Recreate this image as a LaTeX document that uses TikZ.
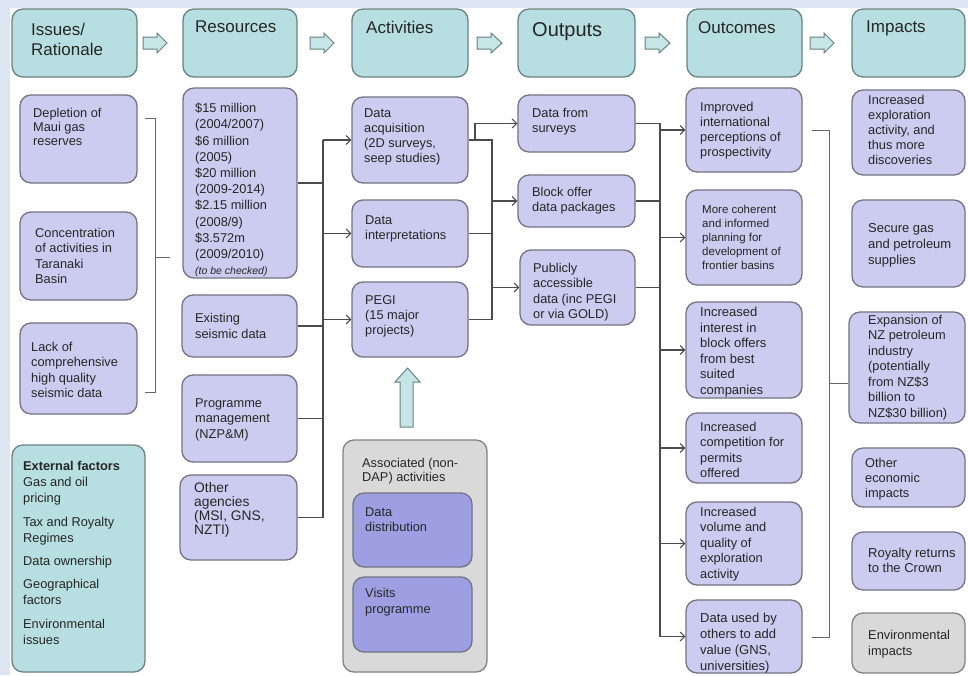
\documentclass[tikz,border=0pt]{standalone}
\usepackage{fontspec}
\setmainfont{Liberation Sans}
\usetikzlibrary{arrows.meta}
\definecolor{bgblue}{RGB}{220,230,242}
\definecolor{lav}{RGB}{204,204,240}
\definecolor{lavdark}{RGB}{158,158,226}
\definecolor{tealfill}{RGB}{183,222,224}
\definecolor{bord}{RGB}{115,115,130}
\definecolor{tealbord}{RGB}{105,130,132}
\definecolor{grayfill}{RGB}{217,217,217}
\definecolor{grybord}{RGB}{130,130,130}
\definecolor{linec}{RGB}{75,75,75}
\newcommand\bx[6]{\node[#6, minimum width={(#4-#2)*1pt}, minimum height={(#5-#3)*1pt}] (#1) at ({(#2+#4)/2},{(#3+#5)/2}) {};}
\newcommand\harrow[4]{\draw[harr] (#2,#4-6) -- (#2+14,#4-6) -- (#2+14,#4-10) -- (#3,#4) -- (#2+14,#4+10) -- (#2+14,#4+6) -- (#2,#4+6) -- cycle;}
\tikzset{
  box/.style={draw=bord, line width=1.3pt, rounded corners=11pt, inner sep=0pt},
  purp/.style={box, fill=lav},
  hdr/.style={box, fill=tealfill, draw=tealbord},
  gry/.style={box, fill=grayfill, draw=grybord},
  dpurp/.style={box, fill=lavdark},
  txt/.style={inner sep=0pt, align=left, anchor=north west, text=black!85, font=\fontsize{12.8}{15.5}\selectfont},
  htxt/.style={txt, font=\fontsize{17}{20}\selectfont},
  conn/.style={draw=linec, line width=1.1pt},
  arr/.style={conn, -{Straight Barb[length=4.5pt, width=9pt]}},
  brk/.style={draw=black!60, line width=1pt},
  harr/.style={draw=tealbord, fill=tealfill!80!white, line width=1pt, line join=miter},
}
\begin{document}
\begin{tikzpicture}[x=1pt, y=-1pt]
\useasboundingbox (0,0) rectangle (968,675);
\fill[white] (0,0) rectangle (968,675);
\fill[bgblue] (0,0) rectangle (968,8);
\fill[bgblue] (0,0) rectangle (10,675);

% headers
\bx{h1}{12}{9}{137}{77}{hdr}
\node[htxt] (h1t) at (31,23) {Issues/\\Rationale};
\bx{h2}{183}{9}{297}{77}{hdr}
\node[htxt] (h2t) at (195,21) {Resources};
\bx{h3}{352}{9}{468}{77}{hdr}
\node[htxt] (h3t) at (366,21) {Activities};
\bx{h4}{518}{9}{635}{77}{hdr}
\node[htxt, font=\fontsize{20}{22}\selectfont] (h4t) at (532,22) {Outputs};
\bx{h5}{687}{9}{802}{77}{hdr}
\node[htxt] (h5t) at (698,21) {Outcomes};
\bx{h6}{852}{9}{965}{77}{hdr}
\node[htxt] (h6t) at (866,21) {Impacts};

\harrow{ha1}{143}{167}{43}
\harrow{ha2}{310}{334}{43}
\harrow{ha3}{477}{502}{43}
\harrow{ha4}{645}{670}{43}
\harrow{ha5}{810}{834}{43}

% issues
\bx{i1}{20}{95}{137}{183}{purp}
\node[txt, font=\fontsize{12.8}{14}\selectfont] (i1t) at (33,108) {Depletion of\\Maui gas\\reserves};
\bx{i2}{20}{212}{137}{300}{purp}
\node[txt] (i2t) at (35,228) {Concentration\\of activities in\\Taranaki\\Basin};
\bx{i3}{20}{323}{137}{414}{purp}
\node[txt] (i3t) at (31,342) {Lack of\\comprehensive\\high quality\\seismic data};
\bx{ext}{12}{445}{145}{672}{hdr}
\node[txt, font=\fontsize{12.8}{16.2}\selectfont] (extt) at (23,461) {{\bfseries External factors}\\Gas and oil\\pricing\\[7pt]Tax and Royalty\\Regimes\\[7pt]Data ownership\\[7pt]Geographical\\factors\\[7pt]Environmental\\issues};

% resources
\bx{r1}{183}{88}{297}{278}{purp}
\node[txt, font=\fontsize{12.8}{16.2}\selectfont] (r1t) at (195,103) {\$15 million\\(2004/2007)\\\$6 million\\(2005)\\\$20 million\\(2009-2014)\\\$2.15 million\\(2008/9)\\\$3.572m\\(2009/2010)\\{\itshape\fontsize{10.5}{12}\selectfont (to be checked)}};
\bx{r2}{182}{295}{297}{357}{purp}
\node[txt, font=\fontsize{12.8}{16.5}\selectfont] (r2t) at (195,313) {Existing\\seismic data};
\bx{r3}{182}{375}{297}{462}{purp}
\node[txt] (r3t) at (195,398) {Programme\\management\\(NZP\&M)};
\bx{r4}{180}{475}{297}{560}{purp}
\node[txt, font=\fontsize{13.8}{14.2}\selectfont] (r4t) at (194,482) {Other\\agencies\\(MSI, GNS,\\NZTI)};

% activities
\bx{a1}{352}{97}{468}{183}{purp}
\node[txt, font=\fontsize{12.8}{15}\selectfont] (a1t) at (364,108) {Data\\acquisition\\(2D surveys,\\seep studies)};
\bx{a2}{352}{200}{468}{267}{purp}
\node[txt] (a2t) at (365,215) {Data\\interpretations};
\bx{a3}{352}{282}{468}{357}{purp}
\node[txt, font=\fontsize{12.8}{15}\selectfont] (a3t) at (365,295) {PEGI\\(15 major\\projects)};
\draw[harr] (400,427) -- (400,382) -- (395,382) -- (407.5,368) -- (420,382) -- (413,382) -- (413,427) -- cycle;
\bx{as}{343}{440}{487}{672}{gry}
\node[txt, font=\fontsize{12.8}{14}\selectfont] (ast) at (362,458) {Associated (non-\\DAP) activities};
\bx{dd}{353}{493}{472}{567}{dpurp}
\node[txt] (ddt) at (365,507) {Data\\distribution};
\bx{vp}{353}{577}{472}{652}{dpurp}
\node[txt, font=\fontsize{12.8}{16.5}\selectfont] (vpt) at (365,588) {Visits\\programme};

% outputs
\bx{o1}{518}{95}{635}{152}{purp}
\node[txt, font=\fontsize{12.8}{15}\selectfont] (o1t) at (532,108) {Data from\\surveys};
\bx{o2}{518}{175}{635}{227}{purp}
\node[txt, font=\fontsize{12.8}{15}\selectfont] (o2t) at (532,187) {Block offer\\data packages};
\bx{o3}{520}{250}{635}{325}{purp}
\node[txt] (o3t) at (533,263) {Publicly\\accessible\\data (inc PEGI\\or via GOLD)};

% outcomes
\bx{c1}{686}{88}{802}{172}{purp}
\node[txt, font=\fontsize{12.8}{15}\selectfont] (c1t) at (700,102) {Improved\\international\\perceptions of\\prospectivity};
\bx{c2}{686}{190}{802}{285}{purp}
\node[txt, font=\fontsize{11.5}{14}\selectfont] (c2t) at (702,205) {More coherent\\and informed\\planning for\\development  of\\frontier basins};
\bx{c3}{686}{302}{802}{398}{purp}
\node[txt, font=\fontsize{13}{15.5}\selectfont] (c3t) at (700,307) {Increased\\interest in\\block offers\\from best\\suited\\companies};
\bx{c4}{686}{413}{802}{483}{purp}
\node[txt] (c4t) at (700,422) {Increased\\competition for\\permits\\offered};
\bx{c5}{686}{502}{802}{585}{purp}
\node[txt] (c5t) at (700,507) {Increased\\volume and\\quality of\\exploration\\activity};
\bx{c6}{686}{600}{802}{673}{purp}
\node[txt, font=\fontsize{13}{16}\selectfont] (c6t) at (700,613) {Data used by\\others to add\\value (GNS,\\universities)};

% impacts
\bx{m1}{852}{90}{965}{175}{purp}
\node[txt, font=\fontsize{12.8}{15}\selectfont] (m1t) at (868,95) {Increased\\exploration\\activity, and\\thus more\\discoveries};
\bx{m2}{852}{200}{965}{287}{purp}
\node[txt, font=\fontsize{13}{16}\selectfont] (m2t) at (868,223) {Secure gas\\and petroleum\\supplies};
\bx{m3}{849}{312}{965}{423}{purp}
\node[txt] (m3t) at (868,315) {Expansion of\\NZ petroleum\\industry\\(potentially\\from NZ\$3\\billion to\\NZ\$30 billion)};
\bx{m4}{852}{448}{965}{507}{purp}
\node[txt, font=\fontsize{12.8}{15}\selectfont] (m4t) at (865,458) {Other\\economic\\impacts};
\bx{m5}{852}{532}{965}{590}{purp}
\node[txt, font=\fontsize{13}{15}\selectfont] (m5t) at (868,548) {Royalty returns\\to the Crown};
\bx{m6}{852}{613}{965}{673}{gry}
\node[txt, font=\fontsize{12.8}{16.5}\selectfont] (m6t) at (868,630) {Environmental\\impacts};

% issues bracket
\coordinate (bi1) at (145,118); \coordinate (bi2) at (155,118);
\coordinate (bi3) at (155,392); \coordinate (bi4) at (145,392);
\coordinate (bi5) at (155,257); \coordinate (bi6) at (170,257);
\draw[brk] (bi1) -- (bi2) -- (bi3) -- (bi4);
\draw[brk] (bi5) -- (bi6);

% resources -> activities
\coordinate (jr) at (323,140);
\draw[conn] (r1.east) -- (r1.east -| jr);
\draw[conn] (r2.east) -- (r2.east -| jr);
\draw[conn] (r3.east) -- (r3.east -| jr);
\draw[conn] (r4.east) -- (r4.east -| jr);
\draw[conn] (jr) -- (jr |- r4.east);
\draw[arr] (jr |- a1.west) -- (a1.west);
\draw[arr] (jr |- a2.west) -- (a2.west);
\draw[arr] (jr |- a3.west) -- (a3.west);

% activities -> outputs
\coordinate (ja) at (492,140);
\coordinate (jb) at (475,140);
\draw[conn] (a1.east) -- (a1.east -| ja) -- (ja |- a3.east) -- (a3.east);
\draw[conn] (a2.east) -- (a2.east -| ja);
\draw[arr] (jb) |- (o1.west);
\draw[arr] (ja |- o2.west) -- (o2.west);
\draw[arr] (ja |- o3.west) -- (o3.west);

% outputs -> outcomes
\coordinate (jc) at (660,123.5);
\draw[conn] (o1.east) -- (o1.east -| jc) -- (jc |- c6.west);
\draw[conn] (o2.east) -- (o2.east -| jc);
\draw[conn] (o3.east) -- (o3.east -| jc);
\draw[arr] (jc |- c1.west) -- (c1.west);
\draw[arr] (jc |- c2.west) -- (c2.west);
\draw[arr] (jc |- c3.west) -- (c3.west);
\draw[arr] (jc |- c4.west) -- (c4.west);
\draw[arr] (jc |- c5.west) -- (c5.west);
\draw[arr] (jc |- c6.west) -- (c6.west);

% outcomes bracket
\coordinate (bo1) at (812,130); \coordinate (bo2) at (829,130);
\coordinate (bo3) at (829,637); \coordinate (bo4) at (812,637);
\coordinate (bo5) at (829,383); \coordinate (bo6) at (848,383);
\draw[brk] (bo1) -- (bo2) -- (bo3) -- (bo4);
\draw[brk] (bo5) -- (bo6);
\end{tikzpicture}
\end{document}
